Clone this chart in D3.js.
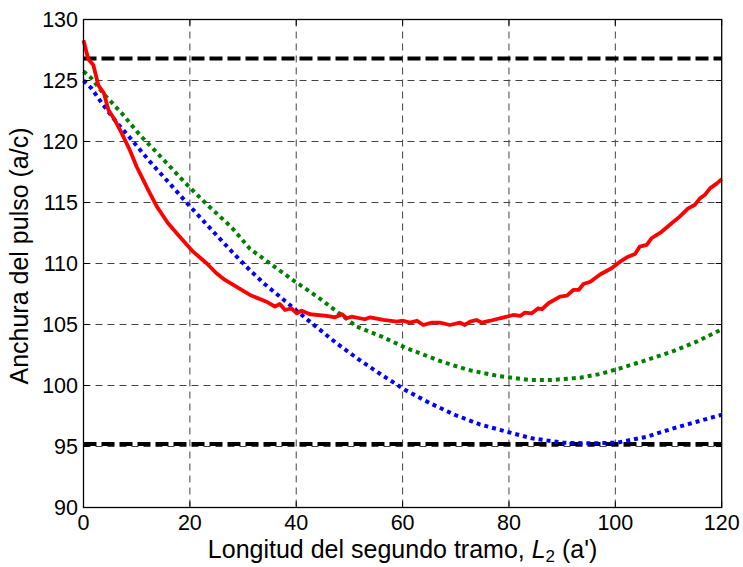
<!DOCTYPE html>
<html>
<head>
<meta charset="utf-8">
<script src="https://cdn.jsdelivr.net/npm/d3@7"></script>
<style>
  html, body { margin: 0; padding: 0; background: #fff; }
  svg { display: block; font-family: "Liberation Sans", Arial, sans-serif; }
</style>
</head>
<body>
<svg id="chart" width="743" height="567"></svg>
<script>
// ---- data ----
const xTicks = [0, 20, 40, 60, 80, 100, 120];
const yTicks = [90, 95, 100, 105, 110, 115, 120, 125, 130];

const refUpper = 126.8;
const refLower = 95.2;

const redX = [0, 0.9, 1.85, 2.8, 3.85, 4.67, 5.9, 7.2, 8.7, 10, 11.25, 12.2, 13.8, 15.9, 18.1, 20.6, 23.2, 25, 26.6,
  31.3, 34.4, 36, 36.9, 37.9, 39.1, 40.1, 41, 42.6, 45.7, 47.3, 48.6, 49.5, 50.4, 52.9, 53.9, 56.4, 58.9, 60.1,
  61.4, 62.7, 63.9, 65.5, 67, 68.9, 70.8, 71.7, 72.7, 73.9, 74.9, 76.5, 78.3, 79.6, 80.8, 82.1, 83, 84.3, 85.5,
  86.2, 87.4, 89.6, 90.9, 92.1, 93.1, 94, 95.3, 97.2, 99.3, 100.9, 102.4, 103.7, 104.6, 105.9, 106.8, 108.7,
  110.2, 112.1, 113.7, 114.9, 115.9, 116.8, 117.8, 119.1, 120];
const redY = [128.3, 126.74, 126.27, 124.6, 123.95, 122.6, 121.76, 120.67, 119.3, 117.93, 116.84, 116.0, 114.66, 113.3, 112.2, 110.97, 110.0, 109.2, 108.65,
  107.42, 106.87, 106.46, 106.68, 106.19, 106.33, 105.92, 106.13, 105.84, 105.7, 105.59, 105.84, 105.51, 105.64, 105.43, 105.59, 105.37, 105.23, 105.31,
  105.15, 105.31, 104.96, 105.15, 105.15, 104.96, 105.15, 104.96, 105.23, 105.37, 105.15, 105.31, 105.51, 105.64, 105.78, 105.70, 105.97, 105.92, 106.33,
  106.25, 106.74, 107.28, 107.36, 107.83, 107.83, 108.32, 108.51, 109.12, 109.61, 110.15, 110.56, 110.78, 111.38, 111.52, 112.07, 112.6,
  113.16, 113.84, 114.52, 114.79, 115.34, 115.61, 116.16, 116.57, 116.9];

const greenX = [0, 1.5, 3.7, 7.2, 10.6, 14.4, 19.1, 22.8, 27.9, 31.3, 35.7, 39.8, 44.2, 51.4, 56.1, 60.8, 67.4, 72.4,
  77.7, 84, 88, 93.4, 97.1, 100.9, 105.9, 110.6, 115.3, 120];
const greenY = [125.75, 125.18, 123.95, 122.31, 120.53, 118.81, 116.62, 115.01, 112.94, 111.2, 109.8, 108.51, 107.2, 104.82, 104.0, 103.05, 101.95, 101.27,
  100.8, 100.45, 100.45, 100.64, 100.94, 101.41, 102.09, 102.77, 103.59, 104.6];

const blueX = [0, 1.5, 3.4, 5.6, 9.1, 12.5, 15.9, 19.4, 24.1, 27.9, 31.3, 34.1, 37.9, 42, 47.6, 51.7, 56.1, 60.5, 65.2,
  69.9, 74.6, 79.6, 84.3, 90.2, 95.2, 100.3, 105.9, 110.9, 115.3, 120];
const blueY = [125.0, 124.36, 123.18, 121.9, 120.12, 118.34, 116.7, 114.98, 112.75, 110.97, 109.45, 108.3, 106.93, 105.43, 103.46, 102.15, 100.86, 99.63, 98.54,
  97.58, 96.8, 96.21, 95.67, 95.31, 95.26, 95.31, 95.8, 96.49, 97.03, 97.6];

const xLabelMain = "Longitud del segundo tramo, ";
const xLabelVar = "L";
const xLabelSub = "2";
const xLabelTail = " (a')";
const yLabel = "Anchura del pulso (a/c)";

// ---- layout ----
const svg = d3.select("#chart");
const mLeft = 83.5, mRight = 721.7, mTop = 19.5, mBottom = 507.5;
const x = d3.scaleLinear().domain([0, 120]).range([mLeft, mRight]);
const y = d3.scaleLinear().domain([90, 130]).range([mBottom, mTop]);

svg.append("rect").attr("width", 743).attr("height", 567).attr("fill", "#fff");

// grid
const grid = svg.append("g");
grid.selectAll("line.gx").data(xTicks.filter(d => d > 0 && d < 120)).join("line")
  .attr("x1", d => x(d)).attr("x2", d => x(d)).attr("y1", mTop).attr("y2", mBottom)
  .attr("stroke", "#444").attr("stroke-width", 1).attr("stroke-dasharray", "7,5");
grid.selectAll("line.gy").data(yTicks.filter(d => d > 90 && d < 130)).join("line")
  .attr("x1", mLeft).attr("x2", mRight).attr("y1", d => y(d)).attr("y2", d => y(d))
  .attr("stroke", "#444").attr("stroke-width", 1).attr("stroke-dasharray", "7,5");

// reference lines
[refUpper, refLower].forEach(v => {
  svg.append("line").attr("x1", mLeft).attr("x2", mRight).attr("y1", y(v)).attr("y2", y(v))
    .attr("stroke", "#000").attr("stroke-width", 4).attr("stroke-dasharray", "13,5");
});

const line = d3.line().x(d => x(d[0])).y(d => y(d[1]));
const zip = (a, b) => a.map((v, i) => [v, b[i]]);

svg.append("path").datum(zip(greenX, greenY)).attr("d", line)
  .attr("fill", "none").attr("stroke", "#008000").attr("stroke-width", 4).attr("stroke-dasharray", "4,4");
svg.append("path").datum(zip(blueX, blueY)).attr("d", line)
  .attr("fill", "none").attr("stroke", "#0000ff").attr("stroke-width", 4).attr("stroke-dasharray", "4,4");
svg.append("path").datum(zip(redX, redY)).attr("d", line)
  .attr("fill", "none").attr("stroke", "#ff0000").attr("stroke-width", 3.8).attr("stroke-linejoin", "round");

// axes box
svg.append("rect").attr("x", mLeft).attr("y", mTop).attr("width", mRight - mLeft).attr("height", mBottom - mTop)
  .attr("fill", "none").attr("stroke", "#000").attr("stroke-width", 1.3);

// ticks (inward)
const tl = 6;
const ax = svg.append("g").attr("stroke", "#000").attr("stroke-width", 1);
xTicks.forEach(t => {
  ax.append("line").attr("x1", x(t)).attr("x2", x(t)).attr("y1", mBottom).attr("y2", mBottom - tl);
  ax.append("line").attr("x1", x(t)).attr("x2", x(t)).attr("y1", mTop).attr("y2", mTop + tl);
});
yTicks.forEach(t => {
  ax.append("line").attr("x1", mLeft).attr("x2", mLeft + tl).attr("y1", y(t)).attr("y2", y(t));
  ax.append("line").attr("x1", mRight).attr("x2", mRight - tl).attr("y1", y(t)).attr("y2", y(t));
});

// tick labels
svg.append("g").selectAll("text").data(xTicks).join("text")
  .attr("x", d => x(d)).attr("y", 530).attr("text-anchor", "middle")
  .attr("font-size", 21.5).attr("fill", "#000").text(d => d);
svg.append("g").selectAll("text").data(yTicks).join("text")
  .attr("x", 78).attr("y", d => y(d) + 7.5).attr("text-anchor", "end")
  .attr("font-size", 21.5).attr("fill", "#000").text(d => d);

// axis labels
const xl = svg.append("text").attr("x", (mLeft + mRight) / 2).attr("y", 558)
  .attr("text-anchor", "middle").attr("font-size", 25).attr("fill", "#000");
xl.append("tspan").text(xLabelMain);
xl.append("tspan").attr("font-style", "italic").text(xLabelVar);
xl.append("tspan").attr("font-size", 17).attr("dy", 4).text(xLabelSub);
xl.append("tspan").attr("dy", -4).text(xLabelTail);

svg.append("text").attr("transform", `translate(28,256) rotate(-90)`)
  .attr("text-anchor", "middle").attr("font-size", 25).attr("fill", "#000").text(yLabel);
</script>
</body>
</html>
